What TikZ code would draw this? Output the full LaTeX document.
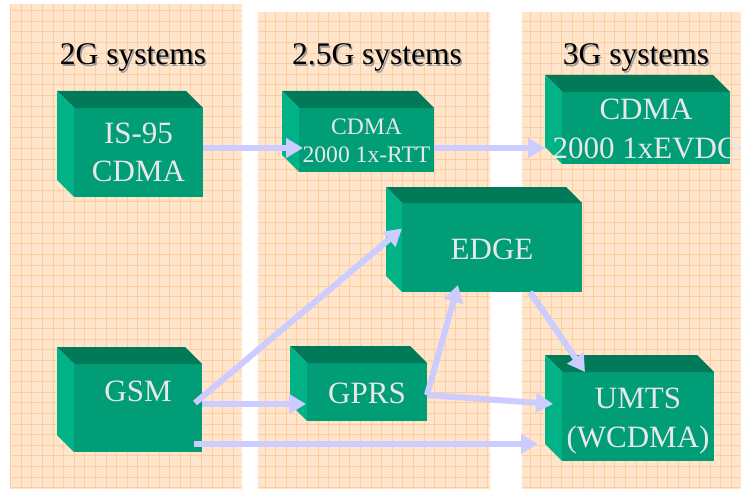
\documentclass[tikz,border=0pt]{standalone}
\usepackage{fontspec}
\setmainfont{Liberation Serif}
\usetikzlibrary{arrows.meta,calc}
\definecolor{peach}{RGB}{255,229,204}
\definecolor{gridc}{RGB}{255,206,158}
\definecolor{frontc}{RGB}{0,157,118}
\definecolor{topc}{RGB}{0,122,89}
\definecolor{sidec}{RGB}{0,178,134}
\definecolor{boxtext}{RGB}{232,232,232}
\definecolor{arrowc}{RGB}{204,204,255}

% side and top faces of a block whose front face is node #1, depth #2
\newcommand\drawblockfaces[2]{%
  \fill[topc] ([shift={(-#2,-#2)}]#1.north west) -- ([shift={(-#2,-#2)}]#1.north east)
    -- (#1.north east) -- (#1.north west) -- cycle;
  \fill[sidec] ([shift={(-#2,-#2)}]#1.north west) -- (#1.north west)
    -- (#1.south west) -- ([shift={(-#2,-#2)}]#1.south west) -- cycle;
}

\tikzset{
  face/.style={fill=frontc, inner sep=0pt, outer sep=0pt},
  big/.style={font=\fontsize{31}{37}\selectfont, text=boxtext, anchor=base, inner sep=0pt},
  small/.style={font=\fontsize{23.6}{27}\selectfont, text=boxtext, anchor=base, inner sep=0pt},
  title/.style={font=\fontsize{31.5}{37}\selectfont, anchor=base, inner sep=0pt},
  link/.style={draw=arrowc, line width=6pt, -{Triangle[length=17pt,width=19pt]}},
  column/.style={fill=peach}
}

\begin{document}
\begin{tikzpicture}[x=1pt,y=-1pt]
\useasboundingbox (0,0) rectangle (743,489);
\fill[white] (0,0) rectangle (743,489);

% three generation columns on squared paper
\foreach \xa/\ya/\xb in {10/4/242, 258/12/490, 522/12/741}{
  \fill[column] (\xa,\ya) rectangle (\xb,489);
  \begin{scope}
    \clip (\xa,\ya) rectangle (\xb,489);
    \draw[gridc, line width=0.7pt, step=10.6pt] (\xa,489) grid (\xb,\ya);
  \end{scope}
}

% column headings
\foreach \x/\t in {133/2G systems, 377/2.5G systems, 636/3G systems}{
  \node[title, text=black!40] at (\x+1.5,66.5) {\t};
  \node[title] at (\x,65) {\t};
}

% front faces
\node[face, minimum width=129pt, minimum height=89pt] (is95) at (138.5,152.5) {};
\node[face, minimum width=135pt, minimum height=64pt] (rtt)  at (366.5,140) {};
\node[face, minimum width=168pt, minimum height=72pt] (evdo) at (646,128) {};
\node[face, minimum width=180pt, minimum height=89pt] (edge) at (492,247.5) {};
\node[face, minimum width=128pt, minimum height=88pt] (gsm)  at (138,408) {};
\node[face, minimum width=120pt, minimum height=58pt] (gprs) at (367,392) {};
\node[face, minimum width=152pt, minimum height=89pt] (umts) at (638,416.5) {};

\drawblockfaces{is95}{17}
\drawblockfaces{rtt}{17}
\drawblockfaces{evdo}{17}
\drawblockfaces{edge}{16}
\drawblockfaces{gsm}{17}
\drawblockfaces{gprs}{17}
\drawblockfaces{umts}{17}

% block labels
\node[big] (is95a) at (is95.center |- 0,144) {IS-95};
\node[big] (is95b) at (is95.center |- 0,182) {CDMA};
\node[small] (rtta) at (rtt.center |- 0,135) {CDMA};
\node[small] (rttb) at (rtt.center |- 0,162) {2000 1x-RTT};
\node[big] (evdoa) at (evdo.center |- 0,120) {CDMA};
\node[big] (evdob) at (evdo.center |- 0,158) {2000 1xEVDO};
\node[big] (edgea) at (edge.center |- 0,259) {EDGE};
\node[big] (gsma) at (gsm.center |- 0,401) {GSM};
\node[big] (gprsa) at (gprs.center |- 0,403) {GPRS};
\node[big] (umtsa) at (umts.center |- 0,408) {UMTS};
\node[big] (umtsb) at (umts.center |- 0,447) {(WCDMA)};

% migration paths
\draw[link] ([yshift=4.5pt]is95.east) -- ([xshift=4pt,yshift=-8pt]rtt.west);
\draw[link] ([yshift=-8pt]rtt.east) -- ([xshift=-17pt,yshift=-20pt]evdo.west);
\draw[link] ([xshift=-7pt,yshift=5pt]gsm.east) -- ([yshift=19pt]edge.west);
\draw[link] ([yshift=4pt]gsm.east) -- ([xshift=-1pt,yshift=-12pt]gprs.west);
\draw[link] ([xshift=-8pt,yshift=-36pt]gsm.east) -- ([xshift=-24pt,yshift=-27.5pt]umts.west);
\draw[link] ([yshift=-3pt]gprs.east) -- ([xshift=-34pt,yshift=7pt]edge.south);
\draw[link] ([yshift=-3pt]gprs.east) -- ([xshift=-9pt,yshift=12.5pt]umts.west);
\draw[link] ([xshift=38pt]edge.south) -- ([xshift=-53pt]umts.north);
\end{tikzpicture}
\end{document}
